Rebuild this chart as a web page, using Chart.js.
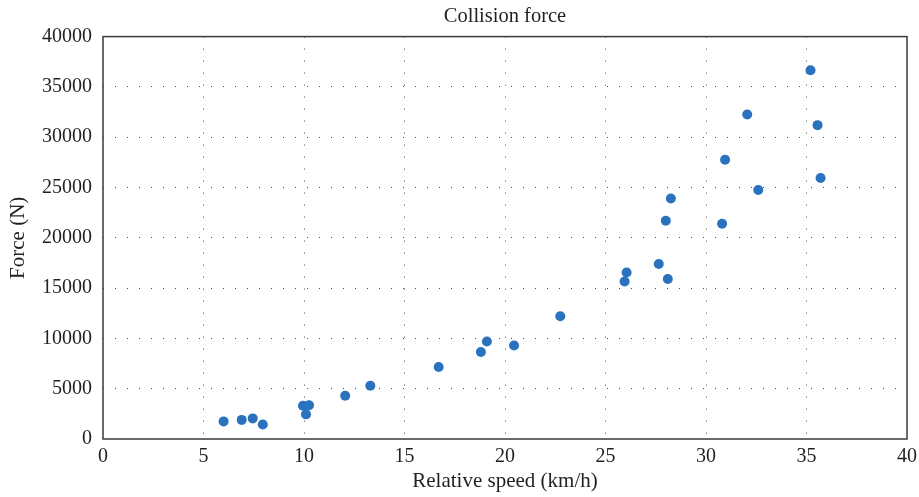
<!DOCTYPE html>
<html>
<head>
<meta charset="utf-8">
<script src="https://cdn.jsdelivr.net/npm/chart.js@4/dist/chart.umd.min.js"></script>
<style>
  html, body { margin: 0; padding: 0; background: #fff; }
  #wrap { width: 919px; height: 497px; }
</style>
</head>
<body>
<div id="wrap"><canvas id="forceChart"></canvas></div>
<script>
// relative speed (km/h) and collision force (N)
const speed = [6.0, 6.9, 7.45, 7.95, 9.95, 10.25, 10.1, 12.05, 13.3, 16.7,
               18.8, 19.1, 20.45, 22.75, 25.95, 26.05, 27.65, 28.1, 28.0,
               28.25, 30.8, 30.95, 32.05, 32.6, 35.2, 35.55, 35.7];
const force = [1750, 1900, 2050, 1450, 3300, 3350, 2450, 4300, 5300, 7150,
               8650, 9700, 9300, 12200, 15650, 16550, 17400, 15900, 21700,
               23900, 21400, 27750, 32250, 24750, 36650, 31200, 25950];

const X_TICKS = [0, 5, 10, 15, 20, 25, 30, 35, 40];
const Y_TICKS = [0, 5000, 10000, 15000, 20000, 25000, 30000, 35000, 40000];

const TEXT_COLOR = '#231f20';
const DOT_COLOR = '#2a72bd';
const FONT = "'Liberation Serif', 'Times New Roman', serif";

const points = speed.map((s, i) => ({ x: s, y: force[i] }));

// box around the plot area
const framePlugin = {
    id: 'frame',
    afterDraw(chart) {
        const { ctx, chartArea: a } = chart;
        ctx.save();
        ctx.strokeStyle = '#3a3a3a';
        ctx.lineWidth = 1.5;
        ctx.strokeRect(a.left, a.top, a.right - a.left, a.bottom - a.top);
        ctx.restore();
    }
};

// hide grid lines that fall on the frame
function gridColor(ctx) {
    const v = ctx.tick ? ctx.tick.value : null;
    if (v === 0 || v === 40 || v === 40000) return 'rgba(0,0,0,0)';
    return '#4a4a4a';
}

new Chart(document.getElementById('forceChart'), {
    type: 'scatter',
    data: {
        datasets: [{
            data: points,
            backgroundColor: DOT_COLOR,
            borderWidth: 0,
            pointRadius: 5,
            pointHoverRadius: 5
        }]
    },
    options: {
        responsive: true,
        maintainAspectRatio: false,
        animation: false,
        layout: { padding: { top: 0, right: 12, bottom: 0, left: 0 } },
        plugins: {
            legend: { display: false },
            tooltip: { enabled: false },
            title: {
                display: true,
                fullSize: false,
                text: 'Collision force',
                color: TEXT_COLOR,
                font: { family: FONT, size: 20.5, weight: 'normal', lineHeight: 1.2 },
                padding: { top: 4, bottom: 8 }
            }
        },
        scales: {
            x: {
                type: 'linear',
                min: 0,
                max: 40,
                afterBuildTicks: s => { s.ticks = X_TICKS.map(v => ({ value: v })); },
                afterFit: s => {
                    s.height = 58;
                    s.paddingLeft = 0;
                    s.paddingRight = 0;
                },
                grid: { color: gridColor, lineWidth: 1, drawTicks: false },
                border: { display: false, dash: [1, 11] },
                ticks: {
                    color: TEXT_COLOR,
                    padding: 6,
                    maxRotation: 0,
                    font: { family: FONT, size: 20 }
                },
                title: {
                    display: true,
                    text: 'Relative speed (km/h)',
                    color: TEXT_COLOR,
                    font: { family: FONT, size: 21, lineHeight: 1.2 },
                    padding: { top: 0, bottom: 3 }
                }
            },
            y: {
                type: 'linear',
                min: 0,
                max: 40000,
                afterBuildTicks: s => { s.ticks = Y_TICKS.map(v => ({ value: v })); },
                afterFit: s => { s.width = 103; },
                grid: { color: gridColor, lineWidth: 1, drawTicks: false },
                border: { display: false, dash: [1, 11] },
                ticks: {
                    color: TEXT_COLOR,
                    padding: 11,
                    font: { family: FONT, size: 20 },
                    callback: v => String(v)
                },
                title: {
                    display: true,
                    text: 'Force (N)',
                    color: TEXT_COLOR,
                    font: { family: FONT, size: 21, lineHeight: 1.2 },
                    padding: { top: 6, bottom: 0 }
                }
            }
        }
    },
    plugins: [framePlugin]
});
</script>
</body>
</html>
